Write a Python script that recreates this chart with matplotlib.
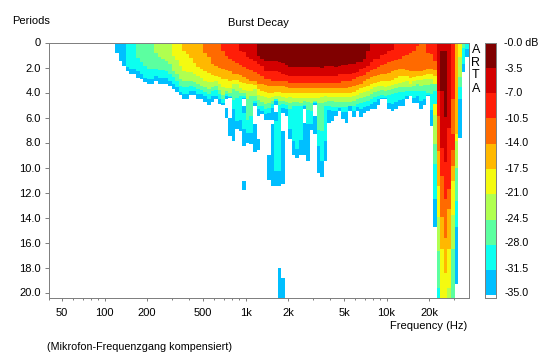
import matplotlib
matplotlib.use("Agg")
import matplotlib.pyplot as plt
import matplotlib.ticker as mticker

plt.rcParams['font.family'] = ['Liberation Sans', 'DejaVu Sans']

# column edges in Hz (1/12 octave)
freq_edges = [
    118.7,125.8,133.2,141.2,149.6,158.5,167.9,177.9,188.5,199.7,211.6,224.2,
    237.4,251.5,266.5,282.3,299.1,316.9,335.8,355.8,376.9,399.3,423.1,448.3,
    474.8,503.0,532.9,564.6,598.2,633.8,671.5,711.5,753.8,798.6,846.1,896.4,
    949.6,1006,1066,1129,1196,1268,1343,1423,1508,1597,1692,1793,
    1899,2012,2132,2259,2393,2535,2686,2846,3015,3195,3385,3586,
    3798,4024,4263,4517,4785,5070,5372,5691,6030,6389,6769,7171,
    7597,8048,8527,9034,9571,10140,10743,11382,12059,12777,13536,14341,
    15194,16097,17054,18068,19142,20281,21487,22764,24118,25553,27072,28683,
    30388,32195,34109,36137,38287]

band_colors = ['#800000','#D40000','#FF1E08','#FF6A00','#FFB800',
               '#F4FA10','#B0FF50','#5CFFA0','#0CFFF0','#00BFFF']
levels = [0,3.5,7,10.5,14,17.5,21,24.5,28,31.5,35]

# depth (periods) where each band ends, columns 0-87. 0 = band not there
end_dark = [0]*40 + [1.04,1.28,1.5,1.5,1.5,1.5,1.55,1.6,1.8,1.92,
    1.92,1.92,1.92,1.92,1.92,1.92,1.92,1.92,2.0,1.85,
    1.85,1.85,1.92,1.85,1.8,1.8,1.7,1.7,1.55,1.55,
    1.28,.64] + [0]*16
end_midred = [0]*35 + [.64,.77,1.12,1.3,1.5,
    1.7,1.84,2.24,2.24,2.24,2.24,2.37,2.5,2.6,2.64,
    2.64,2.64,2.64,2.64,2.64,2.64,2.64,2.64,2.64,2.64,
    2.64,2.64,2.64,2.55,2.5,2.5,2.5,2.4,2.37,2.1,
    2.0,1.84,1.57,1.28,1.28,1.0,.9,.64,.6] + [0]*9
end_red = [0]*30 + [.64,1.1,1.3,1.45,1.6,1.8,1.95,2.1,2.2,2.35,
    2.5,2.64,2.9,2.95,3.05,3.05,3.05,3.1,3.1,3.2,
    3.2,3.2,3.2,3.2,3.2,3.2,3.2,3.2,3.2,3.2,
    3.2,3.2,3.2,3.2,3.05,3.05,3.05,2.95,2.77,2.7,
    2.6,2.37,2.2,2.1,1.95,1.8,1.7,1.55,1.5,1.4,
    1.28,1.1,.96,.8,.64,.3,0,0]
end_orange = [0]*25 + [.85,1.12,1.7,1.85,2.0,
    2.1,2.2,2.3,2.5,2.55,2.6,2.75,2.95,3.05,3.1,
    3.3,3.35,3.4,3.45,3.5,3.5,3.5,3.5,3.55,3.6,
    3.6,3.6,3.6,3.6,3.6,3.6,3.6,3.6,3.6,3.6,
    3.6,3.6,3.6,3.6,3.6,3.6,3.57,3.5,3.4,3.3,
    3.1,2.9,2.75,2.65,2.6,2.55,2.5,2.4,2.3,2.2,
    2.15,2.15,2.2,2.3,2.3,2.25,2.25,2.2]
end_amber = [0]*19 + [.7,.9,1.25,1.63,1.92,2.1,2.3,2.45,2.6,2.64,2.77,
    2.9,2.95,3.1,3.0,3.0,3.15,3.2,3.3,3.3,3.4,
    3.7,3.85,3.97,4.0,4.0,3.95,3.95,4.0,4.0,4.0,
    4.05,4.05,4.05,4.05,4.05,4.05,4.05,4.05,4.05,4.05,
    4.05,4.05,4.05,4.05,4.05,4.05,4.05,3.95,3.8,3.65,
    3.55,3.44,3.3,3.2,3.15,3.1,3.1,3.1,3.0,2.8,
    2.7,2.7,2.7,2.8,2.75,2.7,2.65,2.6]
end_yellow = [0]*16 + [1.04,1.39,1.84,2.3,2.37,2.37,2.5,2.64,2.83,3.04,3.17,3.17,3.04,3.3,
    3.57,3.6,3.6,3.3,3.3,3.6,3.8,3.9,3.85,3.75,
    4.2,4.3,4.37,4.4,4.35,4.25,4.25,4.35,4.4,4.35,
    4.4,4.4,4.45,4.4,4.45,4.45,4.4,4.4,4.35,4.3,
    4.35,4.35,4.37,4.37,4.37,4.37,4.37,4.3,4.2,4.05,
    3.95,3.84,3.7,3.55,3.5,3.5,3.57,3.5,3.4,3.3,
    3.2,3.17,3.1,3.3,3.1,3.0,3.0,2.95]
end_lime = [0]*11 + [.85,1.12,1.3,1.44,1.7,2.24,2.5,2.9,3.04,3.04,3.04,3.12,3.3,3.44,3.57,3.7,3.57,3.44,3.78,
    4.16,3.9,4.0,3.7,3.9,4.0,4.0,4.5,4.3,4.3,
    4.6,4.75,4.9,4.8,4.7,4.5,4.65,4.7,4.75,4.85,
    4.75,4.75,4.8,4.7,4.75,4.8,4.65,4.85,4.8,4.75,
    4.7,4.7,4.72,4.75,4.77,4.77,4.77,4.7,4.55,4.45,
    4.35,4.24,4.1,3.95,3.85,3.8,3.84,3.8,3.7,3.6,
    3.55,3.57,3.55,3.55,3.5,3.3,3.45,3.4]
end_green = [0]*6 + [1.2,1.57,1.9,2.1,2.1,2.1,2.2,2.2,2.3,2.5,2.77,3.05,3.44,3.57,3.57,3.5,3.57,3.7,3.78,3.97,4.1,3.84,3.78,4.1,
    4.5,4.15,4.25,4.6,4.4,4.25,4.3,6.2,5.9,4.7,
    5.04,5.1,5.3,5.2,4.95,4.55,5.0,4.95,5.0,5.3,
    5.1,5.05,5.05,5.0,5.4,5.5,4.75,7.0,7.1,5.1,
    5.1,5.15,5.17,5.17,5.17,5.17,5.05,5.05,4.95,4.85,
    4.75,4.64,4.5,4.35,4.25,4.2,4.24,4.2,4.1,4.0,
    3.95,3.97,3.9,3.84,3.85,3.84,3.9,3.85]
end_cyan = [0]*3 + [1.92,2.1,2.1,2.3,2.55,2.8,2.9,2.9,2.67,2.8,2.8,2.8,3.05,3.3,3.58,3.92,4.15,4.15,3.84,3.84,4.1,4.1,4.3,4.5,4.3,4.25,4.5,
    4.85,4.3,4.35,5.3,6.27,6.2,4.4,7.2,7.2,4.85,
    5.3,5.45,5.7,5.6,5.2,4.7,10.24,5.2,5.35,6.9,
    7.84,8.5,7.8,5.1,6.5,6.5,4.85,8.3,9.44,7.84,
    5.4,5.5,5.5,5.2,5.55,5.55,5.1,5.45,5.15,5.3,
    5.15,5.04,4.9,4.75,4.55,4.4,4.45,4.8,4.9,4.75,
    4.6,4.5,4.3,4.24,4.4,4.24,4.7,4.5]
end_blue = [.85,1.44,1.9,2.3,2.55,2.55,2.8,2.95,3.17,3.28,
    3.28,3.05,3.28,3.28,3.28,3.45,3.68,3.92,4.2,4.48,
    4.55,4.2,4.2,4.48,4.48,4.72,4.96,4.72,4.55,4.88,
    4.96,4.5,4.45,7.9,6.9,7.1,4.5,8.0,8.1,5.1,
    5.84,5.75,6.2,6.2,6.2,5.0,11.44,5.6,5.84,7.7,
    8.96,9.25,8.96,5.3,9.44,6.96,5.0,10.45,10.77,9.44,
    6.45,6.24,5.84,5.44,6.1,6.45,5.44,5.97,5.44,5.97,
    5.65,5.44,5.3,5.3,4.96,4.5,4.5,5.3,5.5,5.3,
    5.1,5.1,4.5,4.24,4.85,4.85,5.3,4.96]

# detached pieces below the gaps
tail_col   = [31,32,36,36,36,36,39,40,43,44,45,45,45,46,47,47,53,56]
tail_start = [5.2,6.0,5.04,5.6,6.9,11.1,6.5,7.7,8.96,6.5,5.57,6.24,10.24,18.0,7.1,18.86,6.45,5.85]
tail_end   = [6.0,7.5,5.6,6.9,8.3,11.76,8.77,8.6,10.96,11.5,6.24,10.24,11.44,20.4,11.3,20.4,8.96,7.3]
tail_band  = [9,9,9,8,9,9,9,9,9,9,9,8,9,9,9,9,9,9]

# columns 88-99, near 20 kHz the bands are not in level order
hf_bands = [[2,3,4,5,6,7,8,9],
            [2,3,4,5,6,7,8,9],
            [2,3,4,5,7,8,5,6,7,8,9],
            [1,2,3,4,5,6,7,8],
            [1,0,1,2,3,4,5],
            [1,0,1,2,3,4,5],
            [1,2,3,4,5,6],
            [2,3,2,3,4,5,6,7],
            [4,5,6,7,8,9],
            [5,6,7,8,9],
            [7,8,9],
            [8,9]]
hf_ends = [[.85,2.1,2.55,2.9,3.4,4.0,4.2,4.24],
           [.9,2.1,2.55,2.9,3.3,4.1,5.36,6.64],
           [1.5,2.2,2.7,3.3,3.9,4.9,5.8,8.1,9.7,12.5,14.77],
           [3.84,5.84,8.7,11.44,13.97,16.7,19.6,20.4],
           [.64,3.84,8.4,10.64,13.97,16.5,20.4],
           [.64,5.97,9.57,12.5,15.6,18.4,20.4],
           [6.8,11.7,13.3,16.5,19.6,20.4],
           [4.5,7.3,8.6,9.9,11.1,13.8,16.5,20.4],
           [7.3,7.84,10.0,12.64,14.77,19.3],
           [1.12,2.77,3.57,4.5,7.65],
           [.45,1.7,2.37],
           [.5,1.12]]

xtick_vals = [50,100,200,500,1000,2000,5000,10000,20000]
xtick_labels = ['50','100','200','500','1k','2k','5k','10k','20k']
xminor_vals = [40,60,70,80,90,300,400,600,700,800,900,3000,4000,6000,7000,8000,9000,30000]
ytick_vals = [0,2,4,6,8,10,12,14,16,18,20]
ytick_labels = ['0','2.0','4.0','6.0','8.0','10.0','12.0','14.0','16.0','18.0','20.0']

W, H = 544, 357
GRAY = '#808080'
FS = 8

fig = plt.figure(figsize=(W/100, H/100), dpi=100, facecolor='white')
ax = fig.add_axes([48.5/W, 1-297.5/H, 420/W, 255/H])

all_ends = [end_dark,end_midred,end_red,end_orange,end_amber,
            end_yellow,end_lime,end_green,end_cyan,end_blue]


def add_piece( col, start, stop, band ):
    ax.bar( freq_edges[col], stop-start, freq_edges[col+1]-freq_edges[col], bottom=start,
            align='edge', color=band_colors[band], linewidth=0, antialiased=False )


for col in range(88):
    depth = 0
    for band, ends in enumerate(all_ends):
        if ends[col] > depth:
            add_piece( col, depth, ends[col], band )
            depth = ends[col]

for col, start, stop, band in zip(tail_col, tail_start, tail_end, tail_band):
    add_piece( col, start, stop, band )

for n, (bands, ends) in enumerate(zip(hf_bands, hf_ends)):
    depth = 0
    for band, stop in zip(bands, ends):
        add_piece( 88+n, depth, stop, band )
        depth = stop

ax.set_xscale('log')
ax.set_xlim(40, 38150)
ax.set_ylim(20.4, 0)
ax.xaxis.set_major_locator(mticker.FixedLocator(xtick_vals))
ax.xaxis.set_major_formatter(mticker.FixedFormatter(xtick_labels))
ax.xaxis.set_minor_locator(mticker.FixedLocator(xminor_vals))
ax.xaxis.set_minor_formatter(mticker.NullFormatter())
ax.set_yticks(ytick_vals)
ax.set_yticklabels(ytick_labels)
ax.tick_params(axis='both', which='both', color=GRAY, width=.72, labelsize=FS, labelcolor='black')
ax.tick_params(axis='y', length=3, pad=2.5)
ax.tick_params(axis='x', which='major', length=2.2, pad=5)
ax.tick_params(axis='x', which='minor', length=1.5)
for sp in ax.spines.values():
    sp.set_color(GRAY)
    sp.set_linewidth(.72)

# level scale on the right
cax = fig.add_axes([484.5/W, 1-297.5/H, 11.5/W, 255/H])
cax.set_xlim(0, 1)
cax.set_ylim(-35.7, 0)
for n in range(10):
    cax.bar( 0, 3.54, 1, bottom=-3.54*(n+1), align='edge', color=band_colors[n], linewidth=0, antialiased=False )
cax.set_xticks([])
cax.yaxis.tick_right()
cax.set_yticks([-v for v in levels])
cax.set_yticklabels(['-0.0 dB'] + ['-%.1f' % v for v in levels[1:]])
cax.tick_params(axis='y', length=0, pad=5.8, labelsize=7.7)
for sp in cax.spines.values():
    sp.set_color(GRAY)
    sp.set_linewidth(.72)

fig.text(12/W, 1-21/H, 'Periods', fontsize=FS, va='center', ha='left')
fig.text(258/W, 1-23/H, 'Burst Decay', fontsize=FS, va='center', ha='center')
fig.text(467/W, 1-326/H, 'Frequency (Hz)', fontsize=FS, va='center', ha='right')
fig.text(47/W, 1-347.5/H, '(Mikrofon-Frequenzgang kompensiert)', fontsize=7.75, va='center', ha='left')
for letter, y in zip('ARTA', [50, 62.7, 75.5, 89]):
    fig.text(475.7/W, 1-y/H, letter, fontsize=9, va='center', ha='center')

fig.savefig('out.png', dpi=100)
